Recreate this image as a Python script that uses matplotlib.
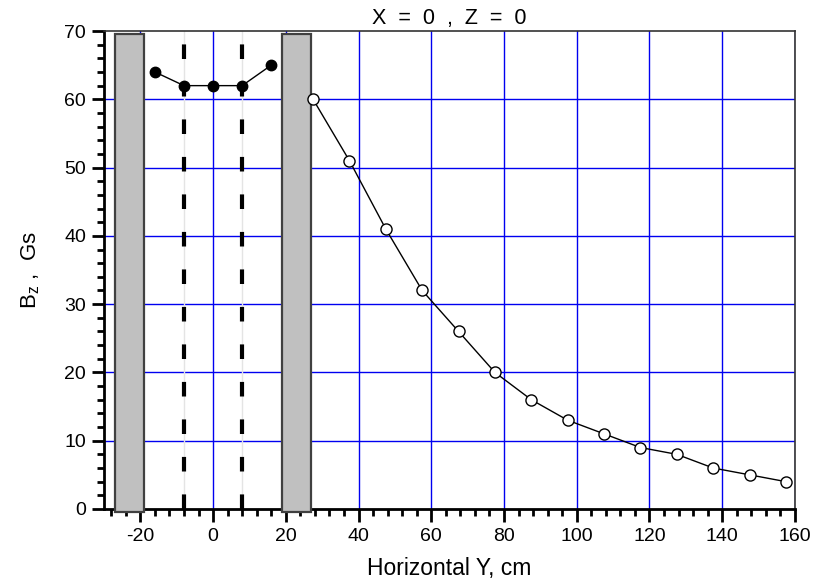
import matplotlib
matplotlib.use("Agg")
import matplotlib.pyplot as plt
from matplotlib.ticker import MultipleLocator
from matplotlib.patches import Rectangle

plt.rcParams['font.family'] = ['Liberation Sans', 'DejaVu Sans']
plt.rcParams['mathtext.fontset'] = 'custom'
plt.rcParams['mathtext.rm'] = 'Liberation Sans'
plt.rcParams['mathtext.it'] = 'Liberation Sans:italic'
plt.rcParams['axes.unicode_minus'] = False

# Data
inner_y = [-16, -8, 0, 8, 16]
inner_bz = [64, 62, 62, 62, 65]
outer_y = [27.5, 37.5, 47.5, 57.5, 67.5, 77.5, 87.5, 97.5, 107.5, 117.5, 127.5, 137.5, 147.5, 157.5]
outer_bz = [60, 51, 41, 32, 26, 20, 16, 13, 11, 9, 8, 6, 5, 4]
walls = [(-27, -19), (19, 27)]
wall_top = 69.6
wall_bottom = -0.4
dashed_x = [-8, 8]
x_ticks = [-20, 0, 20, 40, 60, 80, 100, 120, 140, 160]
y_ticks = [0, 10, 20, 30, 40, 50, 60, 70]

fig = plt.figure(figsize=(8.25, 5.83), dpi=100)
ax = fig.add_axes([0.126, 0.127, 0.8376, 0.8198])
ax.set_xlim(-30, 160)
ax.set_ylim(0, 70)

# grid
for xv in x_ticks:
    ax.axvline(xv, color='#0000f0', lw=1.0, zorder=1)
for yv in y_ticks[1:-1]:
    ax.axhline(yv, color='#0000f0', lw=1.0, zorder=1)

# dash-dot vertical lines
for xv in dashed_x:
    ax.plot([xv, xv], [0, 70], color='#e4e4e4', lw=1.0, zorder=2)
    ax.plot([xv, xv], [0, 70], color='black', lw=3.0,
            dashes=(3.5, 5.5), dash_capstyle='butt', zorder=2)

# walls
for x0, x1 in walls:
    ax.add_patch(Rectangle((x0, wall_bottom), x1 - x0, wall_top - wall_bottom,
                           facecolor='#c0c0c0', edgecolor='#404040', lw=1.6,
                           zorder=3, clip_on=False))

# data series
ax.plot(inner_y, inner_bz, color='black', lw=1.0, marker='o', ms=7.5,
        mfc='black', mec='black', zorder=4, clip_on=False)
ax.plot(outer_y, outer_bz, color='black', lw=1.0, marker='o', ms=8,
        mfc='white', mec='black', mew=1.0, zorder=4, clip_on=False)

# spines/ticks
for s in ax.spines.values():
    s.set_linewidth(1.2)
    s.set_color('#333333')
ax.spines['left'].set_color('black')
ax.spines['bottom'].set_color('black')
ax.spines['left'].set_linewidth(2)
ax.spines['bottom'].set_linewidth(2)

ax.set_xticks(x_ticks)
ax.set_yticks(y_ticks)
ax.xaxis.set_minor_locator(MultipleLocator(4))
ax.yaxis.set_minor_locator(MultipleLocator(2))
ax.tick_params(axis='both', which='major', direction='out', length=9, width=2,
               labelsize=14, top=False, right=False)
ax.tick_params(axis='both', which='minor', direction='out', length=5, width=2,
               top=False, right=False)
ax.tick_params(axis='x', pad=5)
ax.tick_params(axis='y', pad=4)

ax.set_xlabel('Horizontal Y, cm', fontsize=16.5, labelpad=8)
ax.set_ylabel(r'B$_\mathregular{z}$ ,  Gs', fontsize=16, labelpad=16)
ax.set_title('X  =  0  ,  Z  =  0', fontsize=15.5, pad=5)

fig.savefig('out.png', dpi=100)
